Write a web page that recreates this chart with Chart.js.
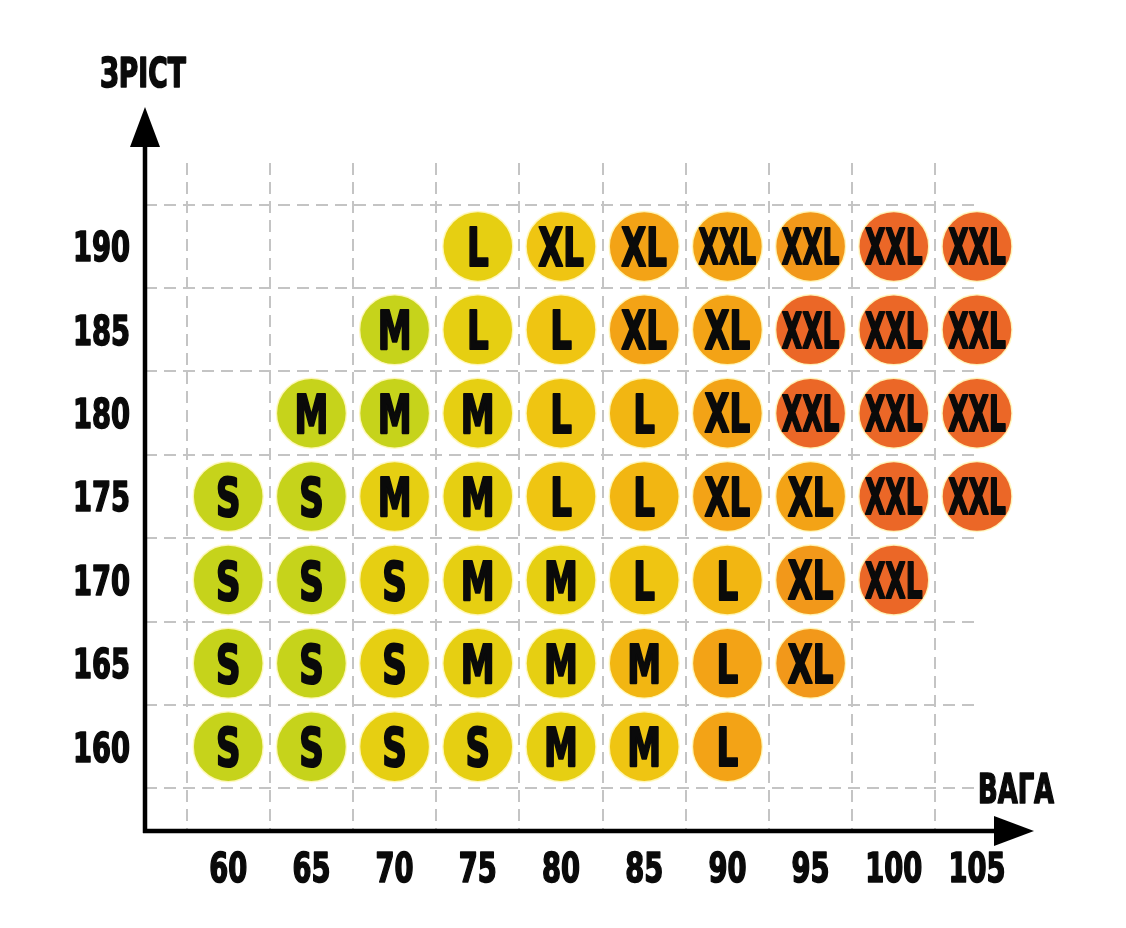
<!DOCTYPE html>
<html><head><meta charset="utf-8">
<script src="https://cdn.jsdelivr.net/npm/chart.js@4/dist/chart.umd.min.js"></script>
<style>html,body{margin:0;padding:0;background:#fff}#wrap{width:1126px;height:928px}</style>
</head><body><div id="wrap"><canvas id="c" width="1126" height="928"></canvas></div>
<script>
// ---- data ----
const weights = [60, 65, 70, 75, 80, 85, 90, 95, 100, 105];
const heights = [160, 165, 170, 175, 180, 185, 190];
const sizes160 = ['S','S','S','S','M','M','L',null,null,null];
const sizes165 = ['S','S','S','M','M','M','L','XL',null,null];
const sizes170 = ['S','S','S','M','M','L','L','XL','XXL',null];
const sizes175 = ['S','S','M','M','L','L','XL','XL','XXL','XXL'];
const sizes180 = [null,'M','M','M','L','L','XL','XXL','XXL','XXL'];
const sizes185 = [null,null,'M','L','L','XL','XL','XXL','XXL','XXL'];
const sizes190 = [null,null,null,'L','XL','XL','XXL','XXL','XXL','XXL'];
// colour tone of each circle (0 = lime ... 6 = red-orange)
const tones160 = [0,0,1,1,1,2,4,null,null,null];
const tones165 = [0,0,1,1,1,3,4,5,null,null];
const tones170 = [0,0,1,1,1,2,3,5,6,null];
const tones175 = [0,0,1,1,2,3,4,4,6,6];
const tones180 = [null,0,0,1,2,3,4,6,6,6];
const tones185 = [null,null,0,1,2,4,4,6,6,6];
const tones190 = [null,null,null,1,2,4,4,5,6,6];
const xTitle = 'ВАГА';
const yTitle = 'ЗРІСТ';

// ---- styles ----
const palette = ['#c6d31b','#e6cf12','#efc512','#f2b612','#f3a316','#f2981a','#eb6727'];
const FONT = "'DejaVu Sans Condensed','DejaVu Sans',sans-serif";

const sizeRows = [sizes160,sizes165,sizes170,sizes175,sizes180,sizes185,sizes190];
const toneRows = [tones160,tones165,tones170,tones175,tones180,tones185,tones190];
const points = [], colors = [], labels = [];
heights.forEach((h, r) => {
  weights.forEach((w, c) => {
    const s = sizeRows[r][c];
    if (s) { points.push({x: w, y: h}); labels.push(s); colors.push(palette[toneRows[r][c]]); }
  });
});

const xTickVals = []; for (let v = 57.5; v <= 105; v += 2.5) xTickVals.push(v);
const yTickVals = []; for (let v = 157.5; v <= 192.5; v += 2.5) yTickVals.push(v);
const isMajor = v => Math.abs(v % 5) < 1e-9;

// condensed heavy text, baseline at y
function heavyText(ctx, text, x, y, size, sx, align) {
  ctx.save();
  ctx.translate(x, y);
  ctx.scale(sx, 1);
  ctx.font = 'bold ' + size + 'px ' + FONT;
  ctx.fillStyle = '#0a0a0a';
  ctx.strokeStyle = '#0a0a0a';
  ctx.lineWidth = size * 0.04;
  ctx.lineJoin = 'round';
  ctx.textAlign = align;
  ctx.textBaseline = 'alphabetic';
  ctx.fillText(text, 0, 0);
  ctx.strokeText(text, 0, 0);
  ctx.restore();
}

const circleLabels = {
  id: 'circleLabels',
  afterDatasetsDraw(chart) {
    const ctx = chart.ctx;
    const meta = chart.getDatasetMeta(0);
    meta.data.forEach((pt, i) => {
      const t = labels[i];
      let size, sx;
      if (t.length === 3) { size = 49; sx = 0.6; }
      else if (t.length === 2) { size = 53; sx = 0.68; }
      else { size = 54; sx = 0.7; }
      heavyText(ctx, t, pt.x, pt.y + size * 0.729 / 2, size, sx, 'center');
    });
  }
};

const axesArrows = {
  id: 'axesArrows',
  afterDraw(chart) {
    const ctx = chart.ctx, a = chart.chartArea;
    const x0 = a.left, y0 = a.bottom + 1;
    ctx.save();
    ctx.fillStyle = '#000';
    ctx.strokeStyle = '#000';
    ctx.lineWidth = 4.5;
    ctx.beginPath();
    ctx.moveTo(x0, y0 + 2); ctx.lineTo(x0, 140);
    ctx.moveTo(x0 - 2, y0); ctx.lineTo(1000, y0);
    ctx.stroke();
    ctx.beginPath();
    ctx.moveTo(x0, 107); ctx.lineTo(x0 - 15, 147); ctx.lineTo(x0 + 15, 147); ctx.closePath(); ctx.fill();
    ctx.beginPath();
    ctx.moveTo(1034, y0); ctx.lineTo(994, y0 - 15); ctx.lineTo(994, y0 + 15); ctx.closePath(); ctx.fill();
    ctx.restore();
    // axis titles
    heavyText(ctx, yTitle, 100, 87, 41, 0.72, 'left');
    heavyText(ctx, xTitle, 978, 803, 41, 0.70, 'left');
    // tick labels, placed by the scales
    const xs = chart.scales.x, ys = chart.scales.y;
    const tsize = 41, tsx = 0.74, cap = tsize * 0.729;
    xs.ticks.forEach(t => {
      if (!isMajor(t.value)) return;
      heavyText(ctx, String(t.value), xs.getPixelForValue(t.value), 867 + cap / 2, tsize, tsx, 'center');
    });
    ys.ticks.forEach(t => {
      if (!isMajor(t.value)) return;
      heavyText(ctx, String(t.value), a.left - 15, ys.getPixelForValue(t.value) + cap / 2, tsize, tsx, 'right');
    });
  }
};

const gridColor = c => (c.tick && isMajor(c.tick.value)) ? 'rgba(0,0,0,0)' : '#c4c4c4';

new Chart(document.getElementById('c'), {
  type: 'scatter',
  data: { datasets: [{
    data: points,
    backgroundColor: colors,
    borderColor: 'rgba(255,248,190,0.9)',
    borderWidth: 1.5,
    pointRadius: 35,
    pointHoverRadius: 35,
    clip: false
  }]},
  options: {
    responsive: false,
    animation: false,
    events: [],
    layout: { padding: { top: 163, right: 149, left: 0, bottom: 0 } },
    plugins: { legend: { display: false }, tooltip: { enabled: false } },
    scales: {
      x: {
        type: 'linear', min: 55, max: 105,
        afterBuildTicks: s => { s.ticks = xTickVals.map(v => ({ value: v })); },
        afterFit: s => { s.height = 98; },
        ticks: { display: false, autoSkip: false, callback: v => isMajor(v) ? String(v) : '' },
        grid: { color: gridColor, lineWidth: 2, drawTicks: false, borderDash: [12, 7] },
        border: { display: false, dash: [12, 7] }
      },
      y: {
        type: 'linear', min: 155, max: 195,
        afterBuildTicks: s => { s.ticks = yTickVals.map(v => ({ value: v })); },
        afterFit: s => { s.width = 145; },
        ticks: { display: false, autoSkip: false, callback: v => isMajor(v) ? String(v) : '' },
        grid: { color: gridColor, lineWidth: 2, drawTicks: false, borderDash: [12, 7] },
        border: { display: false, dash: [12, 7] }
      }
    }
  },
  plugins: [circleLabels, axesArrows]
});
</script>
</body></html>
